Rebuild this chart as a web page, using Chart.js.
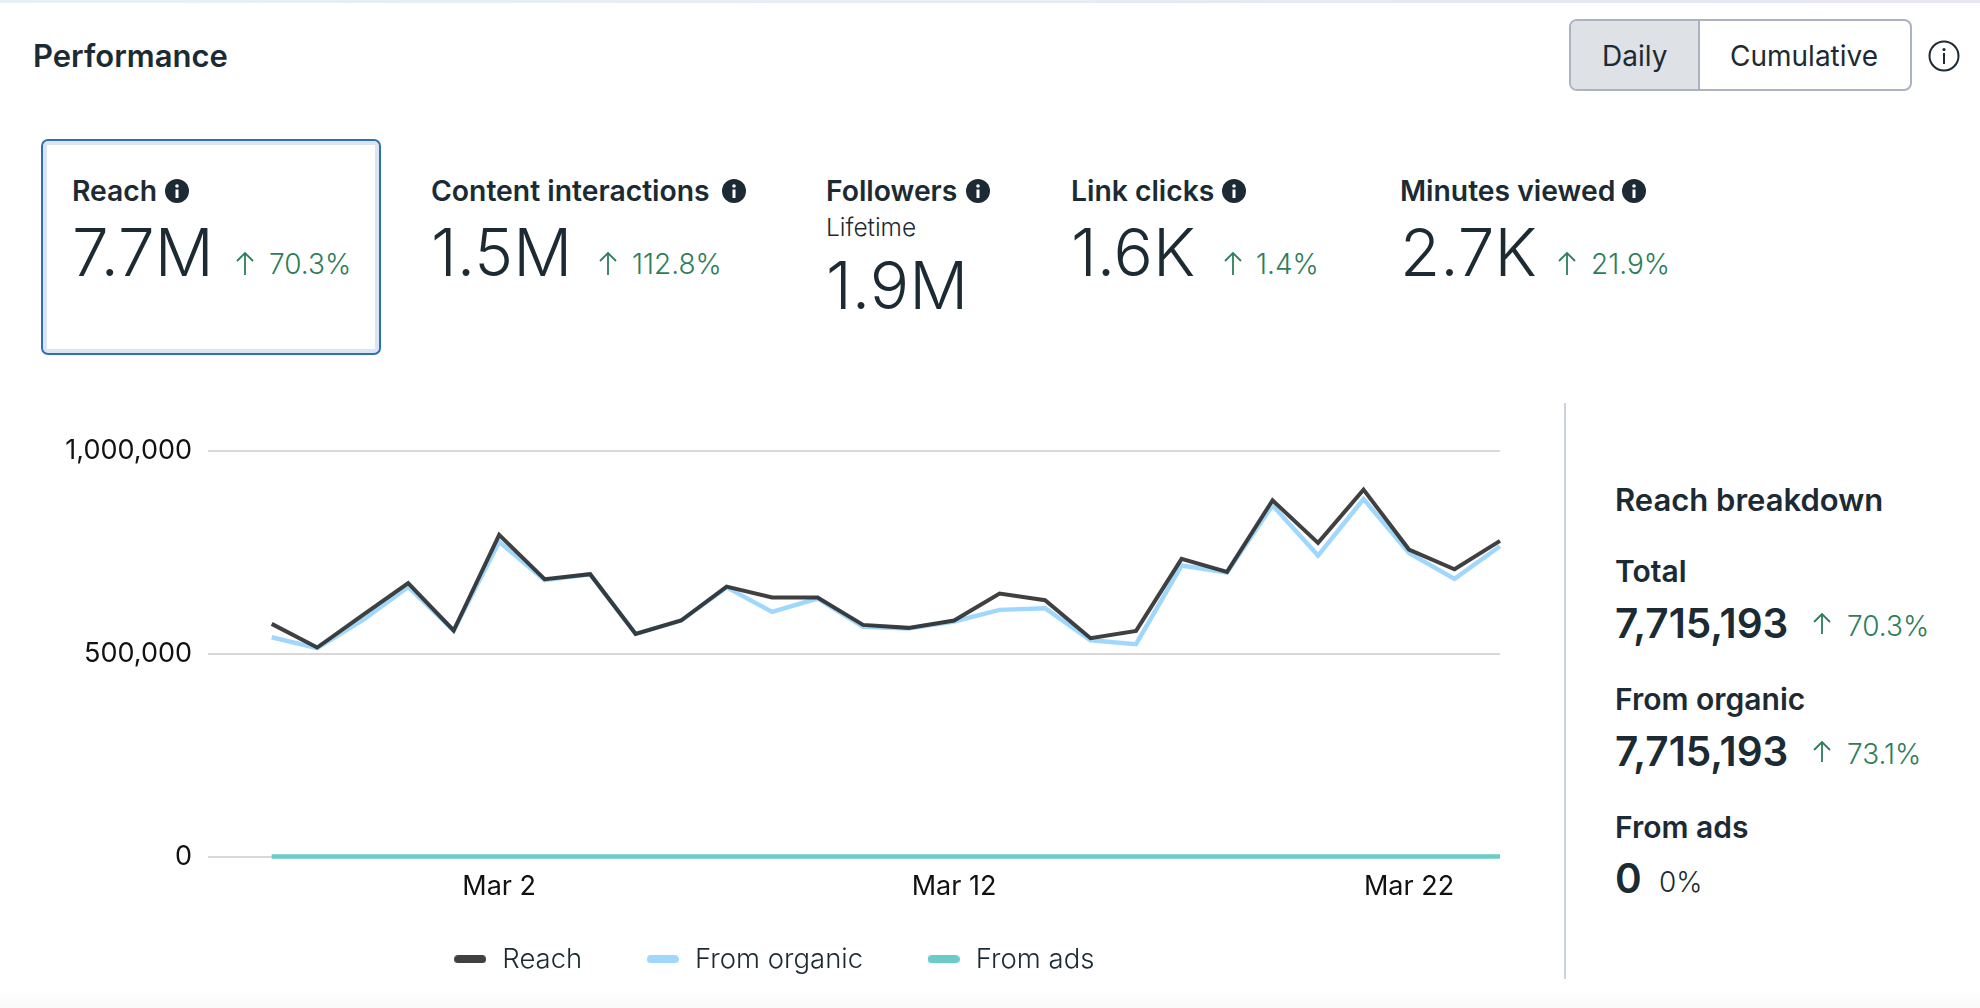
<!DOCTYPE html>
<html><head><meta charset="utf-8">
<script src="https://cdn.jsdelivr.net/npm/chart.js@4"></script>
<style>
html,body{margin:0;padding:0;width:1980px;height:1008px;overflow:hidden;background:#fff;font-family:Inter,"Noto Sans",sans-serif;color:#1c2b33}
#strip{position:absolute;left:0;top:0;width:1980px;height:3px;background:linear-gradient(90deg,#e6f1f6,#e6e6f5)}
#fade{position:absolute;left:0;top:990px;width:1980px;height:18px;background:linear-gradient(#fff,#f9f9f9)}
.t{position:absolute;white-space:nowrap;transform:translateY(-50%);line-height:1.2}
.h{font-weight:600;font-size:28.3px}
.n{font-weight:300;font-size:65.5px}
.d{color:#2d7d5a;font-size:28px;font-weight:300}
.s{font-weight:600;font-size:40.5px}
.b{position:absolute}
#sel{left:41px;top:139px;width:340px;height:216px;box-sizing:border-box;border:2px solid #2f6fb8;border-radius:7px;box-shadow:inset 0 0 0 4px #dce6f2}
#tog{left:1569px;top:19px;width:343px;height:72px;box-sizing:border-box;border:2px solid #aab3bf;border-radius:8px;overflow:hidden}
#tog div{position:absolute;left:0;top:0;width:127px;height:68px;background:#dee1e6;border-right:2px solid #aab3bf}
#div{left:1564px;top:403px;width:2px;height:576px;background:#cbd2d9}
svg{position:absolute;overflow:visible}
#wrap{position:absolute;left:46px;top:419px;width:1464px;height:564px}
</style></head><body>
<div id="strip"></div><div id="fade"></div>
<div class="t h" style="left:33px;top:56px;font-size:31px">Performance</div>
<div class="b" id="tog"><div></div></div>
<div class="t" style="left:1602px;top:57px;font-size:28px">Daily</div>
<div class="t" style="left:1730px;top:57px;font-size:28px">Cumulative</div>
<svg style="left:1928px;top:40px" width="32" height="32" viewBox="0 0 32 32"><circle cx="16" cy="16" r="14.5" fill="none" stroke="#1c2b33" stroke-width="2"/><circle cx="16" cy="9.5" r="1.6" fill="#1c2b33"/><rect x="15" y="13" width="2" height="11" fill="#1c2b33"/></svg>
<div class="b" id="sel"></div>

<div class="t h" style="left:72px;top:191.5px">Reach</div>
<svg style="left:165px;top:179px" width="24" height="24" viewBox="0 0 24 24"><circle cx="12" cy="12" r="12" fill="#1c2b33"/><circle cx="12" cy="7" r="1.8" fill="#fff"/><rect x="10.5" y="10.5" width="3" height="8.5" fill="#fff"/></svg>
<div class="t n" style="left:72px;top:253px">7.7M</div>
<svg style="left:235px;top:252px" width="20" height="23" viewBox="0 0 20 23"><path d="M10 23V1M2 9l8-8 8 8" fill="none" stroke="#2d7d5a" stroke-width="1.8"/></svg>
<div class="t d" style="left:269px;top:265px">70.3%</div>

<div class="t h" style="left:431px;top:191.5px">Content interactions</div>
<svg style="left:722px;top:179px" width="24" height="24" viewBox="0 0 24 24"><circle cx="12" cy="12" r="12" fill="#1c2b33"/><circle cx="12" cy="7" r="1.8" fill="#fff"/><rect x="10.5" y="10.5" width="3" height="8.5" fill="#fff"/></svg>
<div class="t n" style="left:431px;top:253px">1.5M</div>
<svg style="left:598px;top:252px" width="20" height="23" viewBox="0 0 20 23"><path d="M10 23V1M2 9l8-8 8 8" fill="none" stroke="#2d7d5a" stroke-width="1.8"/></svg>
<div class="t d" style="left:632px;top:265px">112.8%</div>

<div class="t h" style="left:826px;top:191.5px">Followers</div>
<svg style="left:966px;top:179px" width="24" height="24" viewBox="0 0 24 24"><circle cx="12" cy="12" r="12" fill="#1c2b33"/><circle cx="12" cy="7" r="1.8" fill="#fff"/><rect x="10.5" y="10.5" width="3" height="8.5" fill="#fff"/></svg>
<div class="t" style="left:826px;top:228px;font-size:24.5px;font-weight:300">Lifetime</div>
<div class="t n" style="left:826px;top:286px">1.9M</div>

<div class="t h" style="left:1071px;top:191.5px">Link clicks</div>
<svg style="left:1222px;top:179px" width="24" height="24" viewBox="0 0 24 24"><circle cx="12" cy="12" r="12" fill="#1c2b33"/><circle cx="12" cy="7" r="1.8" fill="#fff"/><rect x="10.5" y="10.5" width="3" height="8.5" fill="#fff"/></svg>
<div class="t n" style="left:1071px;top:253px">1.6K</div>
<svg style="left:1223px;top:252px" width="20" height="23" viewBox="0 0 20 23"><path d="M10 23V1M2 9l8-8 8 8" fill="none" stroke="#2d7d5a" stroke-width="1.8"/></svg>
<div class="t d" style="left:1256px;top:265px">1.4%</div>

<div class="t h" style="left:1400px;top:191.5px">Minutes viewed</div>
<svg style="left:1622px;top:179px" width="24" height="24" viewBox="0 0 24 24"><circle cx="12" cy="12" r="12" fill="#1c2b33"/><circle cx="12" cy="7" r="1.8" fill="#fff"/><rect x="10.5" y="10.5" width="3" height="8.5" fill="#fff"/></svg>
<div class="t n" style="left:1400px;top:253px">2.7K</div>
<svg style="left:1557px;top:252px" width="20" height="23" viewBox="0 0 20 23"><path d="M10 23V1M2 9l8-8 8 8" fill="none" stroke="#2d7d5a" stroke-width="1.8"/></svg>
<div class="t d" style="left:1591px;top:265px">21.9%</div>

<div class="b" id="div"></div>
<div class="t h" style="left:1615px;top:500px;font-size:31px">Reach breakdown</div>
<div class="t h" style="left:1615px;top:571px;font-size:30px">Total</div>
<div class="t s" style="left:1615px;top:624px">7,715,193</div>
<svg style="left:1812px;top:613px" width="20" height="21" viewBox="0 0 20 21"><path d="M10 21V1M2 9l8-8 8 8" fill="none" stroke="#2d7d5a" stroke-width="1.8"/></svg>
<div class="t d" style="left:1847px;top:627px">70.3%</div>
<div class="t h" style="left:1615px;top:699px;font-size:30px">From organic</div>
<div class="t s" style="left:1615px;top:752px">7,715,193</div>
<svg style="left:1812px;top:741px" width="20" height="21" viewBox="0 0 20 21"><path d="M10 21V1M2 9l8-8 8 8" fill="none" stroke="#2d7d5a" stroke-width="1.8"/></svg>
<div class="t d" style="left:1847px;top:755px">73.1%</div>
<div class="t h" style="left:1615px;top:827px;font-size:30px">From ads</div>
<div class="t s" style="left:1615px;top:879px">0</div>
<div class="t d" style="left:1659px;top:883px;color:#1c2b33">0%</div>

<div id="wrap"><canvas id="c"></canvas></div>
<script>
const dayLabels=["Feb 25","Feb 26","Feb 27","Feb 28","Mar 1","Mar 2","Mar 3","Mar 4","Mar 5","Mar 6","Mar 7","Mar 8","Mar 9","Mar 10","Mar 11","Mar 12","Mar 13","Mar 14","Mar 15","Mar 16","Mar 17","Mar 18","Mar 19","Mar 20","Mar 21","Mar 22","Mar 23","Mar 24"];
const reachValues=[574000,515600,595400,674300,557600,793500,684200,696500,549300,582200,666000,639000,639000,571500,564100,582200,648800,632400,538600,556700,734300,702300,878900,773800,905300,757300,708800,778700];
const organicValues=[541100,514000,583000,665300,557600,776300,681700,696500,549300,582200,664000,603600,636500,566600,562500,579800,608500,612600,533700,523800,717900,700600,866500,742500,881700,749000,685000,765500];
const adsValues=[0,0,0,0,0,0,0,0,0,0,0,0,0,0,0,0,0,0,0,0,0,0,0,0,0,0,0,0];
const yTickValues=[0,500000,1000000];
const xTickIndexes=[5,15,25];
const seriesNames=["Reach","From organic","From ads"];
const seriesColors=["#404040","#a0d8fd","#6accc9"];
const pts=a=>a.map((v,i)=>({x:i,y:v}));
function pill(col){const c=document.createElement('canvas');c.width=32;c.height=8;const g=c.getContext('2d');g.fillStyle=col;g.beginPath();g.roundRect(0,0,32,8,4);g.fill();return c;}
const pills=seriesColors.map(pill);
const font={family:'Inter',size:27,weight:'400'};
new Chart(document.getElementById('c'),{
 type:'line',
 data:{datasets:[
  {label:seriesNames[2],data:pts(adsValues),borderColor:seriesColors[2],borderWidth:4.5,pointRadius:0,order:0,tension:0,clip:false},
  {label:seriesNames[0],data:pts(reachValues),borderColor:'rgba(38,38,38,.88)',borderWidth:4,pointRadius:0,order:1,tension:0,clip:false},
  {label:seriesNames[1],data:pts(organicValues),borderColor:seriesColors[1],borderWidth:4.5,pointRadius:0,order:2,tension:0,clip:false}
 ]},
 plugins:[{id:'noTickClip',beforeDraw:ch=>{ch.scales.x._computeLabelArea=()=>undefined;}}],
 options:{responsive:true,maintainAspectRatio:false,animation:false,devicePixelRatio:1,
  layout:{padding:{left:0,right:10,top:31,bottom:0}},
  plugins:{tooltip:{enabled:false},
   legend:{position:'bottom',labels:{font:{family:'Inter',size:27.5,weight:'300'},color:'#1c2b33',usePointStyle:true,pointStyleWidth:37,padding:62,
    generateLabels:()=>seriesNames.map((n,i)=>({text:n,pointStyle:pills[i],fontColor:'#1c2b33',lineWidth:0,datasetIndex:i}))}}},
  scales:{
   x:{type:'linear',min:-1.4,max:27,grid:{display:false},border:{display:false},
    afterBuildTicks:s=>{s.ticks=xTickIndexes.map(v=>({value:v}));},
    afterFit:s=>{s.height=27;},
    ticks:{autoSkip:false,maxRotation:0,padding:6,color:'#111',font,callback:v=>dayLabels[v]}},
   y:{min:0,max:1000000,border:{display:false},grid:{color:'#d8d8d8',lineWidth:2,drawTicks:false},
    afterBuildTicks:s=>{s.ticks=yTickValues.map(v=>({value:v}));},
    afterFit:s=>{s.width=162;},
    ticks:{padding:16,color:'#111',font,callback:v=>v.toLocaleString('en-US')}}
  }}
});
</script>
</body></html>
